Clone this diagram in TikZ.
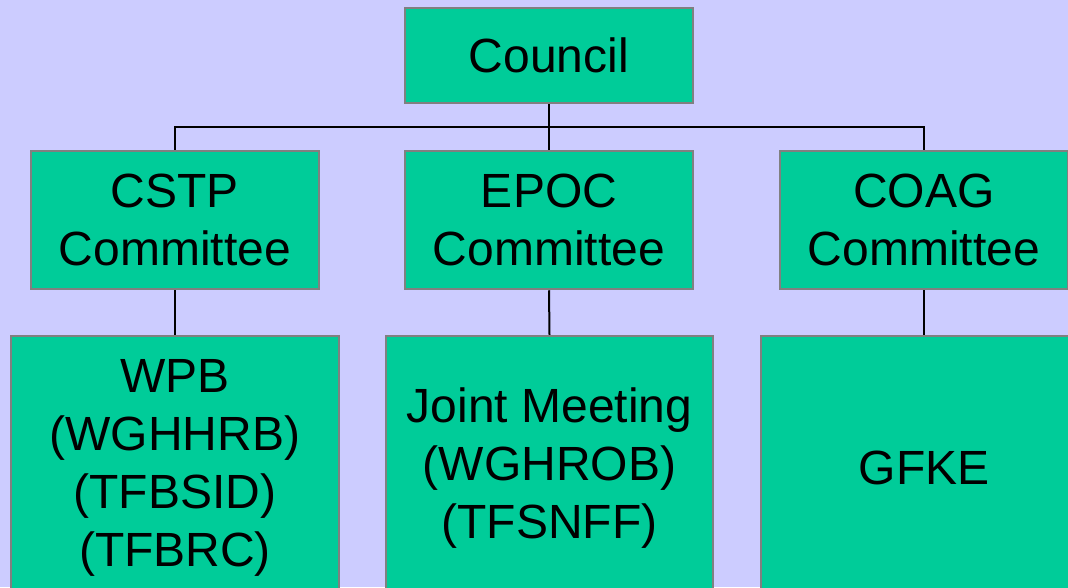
\documentclass[tikz,border=0pt]{standalone}
\usepackage{fontspec}
\setmainfont{Liberation Sans}
\definecolor{bgc}{HTML}{CCCCFF}
\definecolor{boxc}{HTML}{00CC99}
\definecolor{edgec}{HTML}{808080}
\begin{document}
\begin{tikzpicture}[x=1pt,y=-1pt,
  orgbox/.style={draw=edgec,line width=2.5pt,fill=boxc,rectangle,inner sep=0pt,align=center,
    font=\fontsize{48}{58}\selectfont},
  conn/.style={draw=black,line width=2pt}]
\useasboundingbox (0,0) rectangle (1068,587);
\clip (0,0) rectangle (1068,587);
\fill[bgc] (0,0) rectangle (1068,587);
\node[orgbox,minimum width=288pt,minimum height=95pt] (council) at (549,55.5) {Council};
\node[orgbox,minimum width=288pt,minimum height=138pt] (cstp) at (175,220) {CSTP\\Committee};
\node[orgbox,minimum width=288pt,minimum height=138pt] (epoc) at (549,220) {EPOC\\Committee};
\node[orgbox,minimum width=288pt,minimum height=138pt] (coag) at (924,220) {COAG\\Committee};
\node[orgbox,minimum width=328pt,minimum height=264pt] (wpb) at (175,468) {WPB\\(WGHHRB)\\(TFBSID)\\(TFBRC)};
\node[orgbox,minimum width=327pt,minimum height=264pt] (joint) at (549.5,468) {Joint Meeting\\(WGHROB)\\(TFSNFF)};
\node[orgbox,minimum width=326pt,minimum height=264pt] (gfke) at (924,468) {GFKE};
\coordinate (hub) at (549,127);
\draw[conn] (council.south) -- (epoc.north);
\draw[conn] (cstp.north) |- (hub) -| (coag.north);
\draw[conn] (cstp.south) -- (wpb.north);
\draw[conn] (epoc.south) -- (joint.north);
\draw[conn] (coag.south) -- (gfke.north);
\end{tikzpicture}
\end{document}
